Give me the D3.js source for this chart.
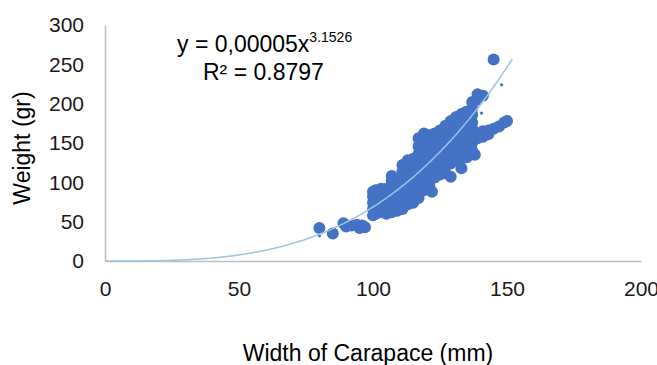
<!DOCTYPE html>
<html>
<head>
<meta charset="utf-8">
<script src="https://cdn.jsdelivr.net/npm/d3@7"></script>
<style>
  body { margin: 0; background: #fff; }
  text { font-family: Arial, "Liberation Sans", sans-serif; }
</style>
</head>
<body>
<div id="chart"></div>
<script>
// carapace width (mm) and weight (gr)
const widths = [
  80, 85, 89, 90, 92, 94, 95, 96, 97,
  100, 100, 100, 100, 100,
  101, 101, 101, 101, 101,
  103, 103, 103, 103, 103,
  105, 105, 105, 105, 105,
  107, 107, 107, 107, 107, 107, 107,
  109, 109, 109, 109, 109,
  111, 111, 111, 111, 111, 111, 111, 111,
  113, 113, 113, 113, 113, 113, 113, 113,
  115, 115, 115, 115, 115, 115, 115, 115,
  117, 117, 117, 117, 117, 117, 117, 117, 117, 117,
  119, 119, 119, 119, 119, 119, 119, 119, 119, 119,
  121, 121, 121, 121, 121, 121, 121, 121, 121,
  122,
  123, 123, 123, 123, 123, 123, 123, 123,
  125, 125, 125, 125, 125, 125, 125, 125,
  127, 127, 127, 127, 127, 127, 127, 127, 127,
  129, 129, 129, 129, 129, 129, 129, 129, 129,
  131, 131, 131, 131, 131, 131, 131, 131,
  133, 133, 133, 133, 133, 133, 133, 133, 133,
  135, 135, 135, 135, 135, 135, 135, 135,
  137, 137, 137, 137, 137, 137, 137, 137,
  138,
  139, 139, 139, 139,
  141, 141, 141,
  143, 143,
  145, 145, 147, 149, 150
];
const weights = [
  42, 35, 48, 44, 45, 46, 42, 45, 43,
  58, 66, 74, 82, 88,
  60, 68, 76, 84, 90,
  62, 70, 78, 86, 92,
  60, 68, 76, 84, 92,
  62, 70, 78, 86, 94, 102, 108,
  64, 72, 80, 88, 96,
  66, 74, 82, 90, 98, 106, 114, 122,
  72, 80, 88, 96, 104, 112, 120, 128,
  74, 82, 90, 98, 106, 114, 122, 130,
  80, 88, 96, 104, 112, 120, 128, 136, 146, 156,
  90, 98, 106, 114, 122, 130, 138, 146, 154, 162,
  96, 104, 112, 120, 128, 136, 144, 152, 160,
  88,
  106, 114, 122, 130, 138, 146, 154, 162,
  110, 118, 126, 134, 142, 150, 158, 166,
  112, 120, 128, 136, 144, 152, 160, 168, 172,
  107, 124, 132, 140, 148, 156, 164, 172, 178,
  128, 136, 144, 152, 160, 168, 176, 183,
  118, 130, 138, 146, 154, 162, 170, 178, 187,
  132, 140, 148, 156, 164, 172, 180, 190,
  140, 150, 160, 168, 176, 186, 194, 202,
  135,
  156, 162, 205, 212,
  158, 165, 210,
  161, 166,
  168, 256, 171, 176, 178
];
// tiny markers that show along the curve
const dotWidths = [80, 138, 140.5, 148];
const dotWeights = [32, 179, 188, 224];

const xTicks = [0, 50, 100, 150, 200];
const yTicks = [0, 50, 100, 150, 200, 250, 300];

// power trendline
const fitCoef = 0.000034;
const fitExp = 3.1526;
const fitRange = [0, 152];
const eqText = "y = 0,00005x";
const eqPower = "3.1526";
const r2Text = "R² = 0.8797";

const W = 657, H = 365;
const svg = d3.select('#chart').append('svg')
    .attr('width', W)
    .attr('height', H);

const x = d3.scaleLinear().domain([0, 200]).range([105, 641]);
const y = d3.scaleLinear().domain([0, 300]).range([261, 25]);

const xAxis = svg.append('g')
    .attr('transform', `translate(0, ${y(0)})`)
    .call(d3.axisBottom(x).tickValues(xTicks).tickSize(0).tickPadding(20));
const yAxis = svg.append('g')
    .attr('transform', `translate(${x(0)}, 0)`)
    .call(d3.axisLeft(y).tickValues(yTicks).tickSize(0).tickPadding(21));

[xAxis, yAxis].forEach(g => {
    g.select('.domain').attr('stroke', '#bfbfbf').attr('stroke-width', 1.5);
    g.selectAll('text')
        .attr('fill', '#1a1a1a')
        .style('font-size', '21px')
        .style('font-family', 'Arial, "Liberation Sans", sans-serif');
});

// points
const pts = widths.map((w, i) => ({ w: w, g: weights[i] }));
svg.append('g').selectAll('circle')
    .data(pts)
    .enter().append('circle')
    .attr('cx', d => x(d.w))
    .attr('cy', d => y(d.g))
    .attr('r', 6)
    .attr('fill', '#4472c4');

svg.append('g').selectAll('circle')
    .data(dotWidths.map((w, i) => ({ w: w, g: dotWeights[i] })))
    .enter().append('circle')
    .attr('cx', d => x(d.w))
    .attr('cy', d => y(d.g))
    .attr('r', 1.6)
    .attr('fill', '#4472c4');

// trend curve
const curveXs = d3.range(fitRange[0], fitRange[1] + 0.5, 1);
const line = d3.line()
    .x(d => x(d))
    .y(d => y(fitCoef * Math.pow(d, fitExp)));
svg.append('path')
    .attr('d', line(curveXs))
    .attr('fill', 'none')
    .attr('stroke', '#9dc3e6')
    .attr('stroke-width', 1.5);

// equation label
const eq = svg.append('text')
    .attr('x', 177)
    .attr('y', 52)
    .style('font-size', '23px')
    .attr('fill', '#000');
eq.append('tspan').text(eqText);
eq.append('tspan')
    .attr('dy', -10)
    .style('font-size', '14px')
    .text(eqPower);
svg.append('text')
    .attr('x', 203)
    .attr('y', 80)
    .style('font-size', '23px')
    .attr('fill', '#000')
    .text(r2Text);

// axis titles
svg.append('text')
    .attr('x', 368)
    .attr('y', 361)
    .attr('text-anchor', 'middle')
    .style('font-size', '23px')
    .attr('fill', '#000')
    .text('Width of Carapace (mm)');
svg.append('text')
    .attr('transform', 'translate(30, 148) rotate(-90)')
    .attr('text-anchor', 'middle')
    .style('font-size', '23px')
    .attr('fill', '#000')
    .text('Weight (gr)');
</script>
</body>
</html>
